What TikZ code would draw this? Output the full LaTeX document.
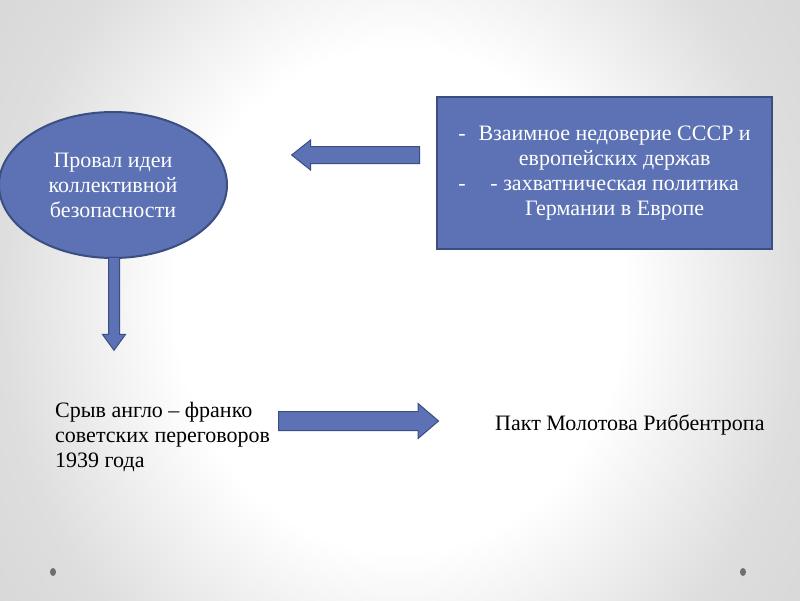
\documentclass[tikz,border=0pt]{standalone}
\usepackage{fontspec}
\setmainfont{Liberation Serif}
\usetikzlibrary{shapes.geometric, shapes.arrows, positioning}
\usepackage{xcolor}
\definecolor{slateblue}{RGB}{92,114,180}
\definecolor{darkslateblue}{RGB}{58,78,130}
\definecolor{dotgray}{RGB}{110,110,110}
\pgfdeclareradialshading{slidebg}{\pgfpoint{0bp}{0bp}}{color(0bp)=(white); color(14bp)=(white); color(25bp)=(gray!26); color(32bp)=(gray!32); color(50bp)=(gray!32)}
\tikzset{blueellipsenode/.style={ellipse, fill=slateblue, draw=darkslateblue, line width=2pt, text=white, align=center},blueboxnode/.style={rectangle, fill=slateblue, draw=darkslateblue, line width=2pt, text=white}}
\tikzset{bluearrownode/.style={single arrow, fill=slateblue, draw=darkslateblue, line width=1pt, inner sep=0pt, single arrow head indent=0pt},plaintextnode/.style={inner sep=0pt, anchor=west, align=left}}

\begin{document}
\begin{tikzpicture}[
        x=1pt, y=-1pt,
        font=\fontsize{22}{25}\selectfont,
        dotnode/.style={ellipse, fill=dotgray, minimum width=6pt, minimum height=8pt, inner sep=0pt},
    ]
        % Background
        \useasboundingbox (0,0) rectangle (800,600);
        \begin{scope}
            \clip (0,0) rectangle (800,600);
            \shade[shading=slidebg] (0,-150) rectangle (800,750);
        \end{scope}
        % Shapes
        \node[blueellipsenode, minimum width=228pt, minimum height=146pt] (idea) at (113,185) {Провал идеи\\коллективной\\безопасности};
        \node[blueboxnode, minimum width=335pt, minimum height=152pt] (reasons) at (604.5,173) {%
            \begin{tabular}{@{}l@{\hspace{13pt}}c@{}}
                - & Взаимное недоверие СССР и\\
                  & европейских держав\\
                - & - захватническая политика\\
                  & Германии в Европе
            \end{tabular}};
        % Arrows
        \node[bluearrownode, shape border rotate=180, minimum height=128pt, inner ysep=8pt, single arrow head extend=6.5pt, single arrow tip angle=77] (toidea) at (361,155) {};
        \node[bluearrownode, shape border rotate=270, minimum height=93pt, inner xsep=5pt, single arrow head extend=6pt, single arrow tip angle=72] (fromidea) at (114,300) {};
        \node[bluearrownode, minimum height=160pt, inner ysep=9pt, single arrow head extend=8pt, single arrow tip angle=81] (topact) at (353,421) {};
        % Texts
        \node[plaintextnode] (breakdown) at (55,437) {Срыв англо – франко\\советских переговоров\\1939 года};
        \node[plaintextnode] (pact) at (495,425) {Пакт Молотова Риббентропа};
        % Dots
        \node[dotnode] (leftdot) at (53,572) {};
        \node[dotnode] (rightdot) at (743,572) {};
    \end{tikzpicture}
\end{document}
